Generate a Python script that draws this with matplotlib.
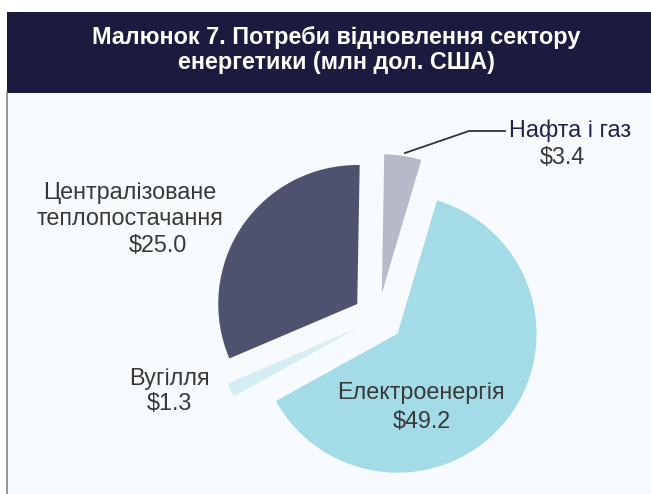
import matplotlib
matplotlib.use("Agg")
from matplotlib import pyplot as plt
from matplotlib.patches import Rectangle
from matplotlib.lines import Line2D

# дані (млн дол. США), за годинниковою стрілкою від верху
sectors = ["Нафта і газ", "Електроенергія", "Вугілля", "Централізоване теплопостачання"]
values = [3.4, 49.2, 1.3, 25.0]
colors = ["#b8b9c8", "#a3dbe7", "#d4eef4", "#4f526f"]
title = "Малюнок 7. Потреби відновлення сектору\nенергетики (млн дол. США)"

W, H = 651, 494

def px(x, y):
    '''pixel (from top-left) -> figure fraction'''
    return x / W, 1 - y / H

plt.rcParams['font.family'] = ['Liberation Sans', 'DejaVu Sans']

fig = plt.figure(figsize=(W / 100, H / 100), dpi=100)
fig.patch.set_facecolor("white")

# фон, рамка та шапка
fig.patches.append(Rectangle(px(7, 494), 1 - 7 / W, 401 / H, transform=fig.transFigure,
                             facecolor="#f7fbfd", edgecolor="none", zorder=0))
fig.patches.append(Rectangle(px(7, 93), 1 - 7 / W, 81 / H, transform=fig.transFigure,
                             facecolor="#1b1b40", edgecolor="none", zorder=1))
fig.lines.append(Line2D([7 / W, 7 / W], [0, 1 - 93 / H], transform=fig.transFigure,
                        color="#7d8098", lw=1.2))
fig.text(*px(336, 50), title, color="white", fontsize=16.8, fontweight="bold",
         ha="center", va="center", linespacing=1.1)

# кругова діаграма: центр (378, 318) px, радіус 139 px
cx, cy, r = 378, 318, 139
ax = fig.add_axes([0, 0, 1, 1])
ax.set_zorder(3)
ax.pie(values, colors=colors, explode=[0.18] * 4, startangle=89, counterclock=False,
       radius=1, wedgeprops=dict(linewidth=0))
ax.set_xlim(-cx / r, (W - cx) / r)
ax.set_ylim(-(H - cy) / r, cy / r)
ax.set_aspect("auto")
ax.set_axis_off()
ax.patch.set_alpha(0)

# підписи
txt = dict(fontsize=16.8, color="#383838", ha="center", va="center", zorder=5)
fig.text(*px(570, 131), sectors[0], **dict(txt, color="#1e2450"))
fig.text(*px(562, 158), "$%.1f" % values[0], **txt)
fig.text(*px(421, 392), sectors[1], **txt)
fig.text(*px(422, 421), "$%.1f" % values[1], **txt)
fig.text(*px(169, 379), sectors[2], **txt)
fig.text(*px(169, 403), "$%.1f" % values[2], **txt)
fig.text(*px(130, 192), "Централізоване", **txt)
fig.text(*px(130, 218), "теплопостачання", **txt)
fig.text(*px(158, 245), "$%.1f" % values[3], **txt)

# виносна лінія для "Нафта і газ"
lx, ly = zip(px(405, 153), px(469, 131), px(505, 131))
fig.lines.append(Line2D(lx, ly, transform=fig.transFigure, color="#333333", lw=1.3))

fig.savefig("out.png", dpi=100)
plt.close()
